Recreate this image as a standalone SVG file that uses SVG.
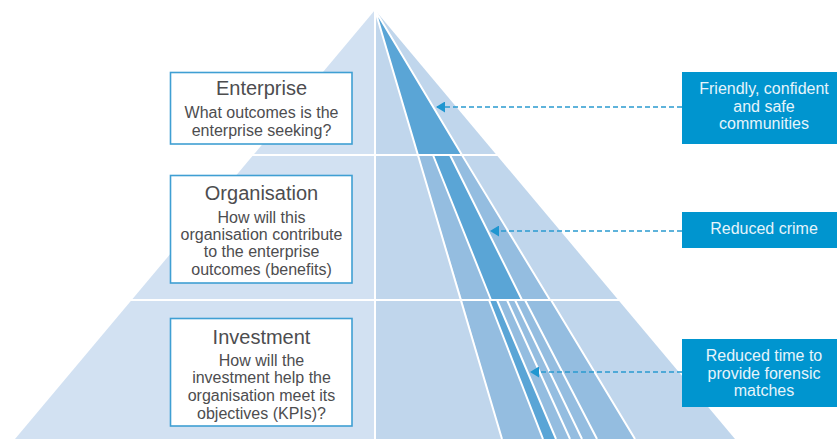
<svg xmlns="http://www.w3.org/2000/svg" width="837" height="439" viewBox="0 0 837 439">
<style>
.sep{stroke:#fff;stroke-width:2;fill:none}
.mid{fill:#94bde0}.dark{fill:#5aa5d6}
.lbox{fill:#fff;stroke:#3f9fd3;stroke-width:1.6}
.rbox{fill:#0095cf}
.t{font-family:"Liberation Sans",Arial,sans-serif;text-anchor:middle}
.h{font-size:20px;fill:#4d4d4f}
.b{font-size:16px;fill:#4d4d4f}
.w{font-size:16px;fill:#e6f4fb}
.conn{stroke:#2a9bd0;stroke-width:1.6;stroke-dasharray:5 3;fill:none}
</style>
<defs>
<marker id="ah" markerUnits="userSpaceOnUse" markerWidth="9" markerHeight="11" refX="8" refY="5.5" orient="auto">
<path d="M0 0L9 5.500L0 11Z" fill="#1f96d0"/>
</marker>
</defs>
<g id="pyramid">
<polygon points="375,10 15,439 375,439" fill="#d2e1f2"/>
<polygon points="375,10 735,439 375,439" fill="#c0d6ec"/>
<polygon class="dark" points="375,10 418,155 462,155"/>
<polygon class="mid" points="418,155 433,155 491,300 462,300"/>
<polygon class="dark" points="433,155 450,155 522,300 491,300"/>
<polygon class="mid" points="450,155 463,155 550,300 522,300"/>
<polygon class="mid" points="462,300 489,300 543,439 502,439"/>
<polygon class="dark" points="489,300 497,300 556,439 543,439"/>
<polygon class="mid" points="497,300 525,300 597,439 556,439"/>
<polygon class="mid" points="525,300 551,300 635,439 597,439"/>
<path class="sep" d="M375 10V439M375 10L502 439M375 10L462 155M433 155L491 300M450 155L522 300M462 155L550 300M489 300L543 439M497 300L556 439M507 300L570 439M515 300L582 439M525 300L597 439M551 300L635 439M0 155H500M0 300H625"/>
</g>
<g id="connectors">
<path class="conn" d="M682 107H437" marker-end="url(#ah)"/>
<path class="conn" d="M682 231H491" marker-end="url(#ah)"/>
<path class="conn" d="M682 372H531" marker-end="url(#ah)"/>
</g>
<g id="enterprise">
<rect class="lbox" x="170.500" y="72.500" width="181.500" height="71.500"/>
<text class="t h" x="261.500" y="95">Enterprise</text>
<text class="t b" x="261.500" y="118">What outcomes is the</text>
<text class="t b" x="261.500" y="136">enterprise seeking?</text>
</g>
<g id="organisation">
<rect class="lbox" x="170.500" y="175.500" width="181.500" height="107.500"/>
<text class="t h" x="261.500" y="200">Organisation</text>
<text class="t b" x="261.500" y="223">How will this</text>
<text class="t b" x="261.500" y="240">organisation contribute</text>
<text class="t b" x="261.500" y="257">to the enterprise</text>
<text class="t b" x="261.500" y="275">outcomes (benefits)</text>
</g>
<g id="investment">
<rect class="lbox" x="170.500" y="318.500" width="181.500" height="107.500"/>
<text class="t h" x="261.500" y="344">Investment</text>
<text class="t b" x="261.500" y="366">How will the</text>
<text class="t b" x="261.500" y="383">investment help the</text>
<text class="t b" x="261.500" y="401">organisation meet its</text>
<text class="t b" x="261.500" y="419">objectives (KPIs)?</text>
</g>
<g id="outcome-enterprise">
<rect class="rbox" x="682" y="72" width="155" height="72"/>
<text class="t w" x="764" y="94">Friendly, confident</text>
<text class="t w" x="764" y="112">and safe</text>
<text class="t w" x="764" y="129">communities</text>
</g>
<g id="outcome-organisation">
<rect class="rbox" x="682" y="212" width="155" height="36"/>
<text class="t w" x="764" y="234">Reduced crime</text>
</g>
<g id="outcome-investment">
<rect class="rbox" x="682" y="339" width="155" height="68"/>
<text class="t w" x="764" y="361">Reduced time to</text>
<text class="t w" x="764" y="379">provide forensic</text>
<text class="t w" x="764" y="396">matches</text>
</g>
</svg>
